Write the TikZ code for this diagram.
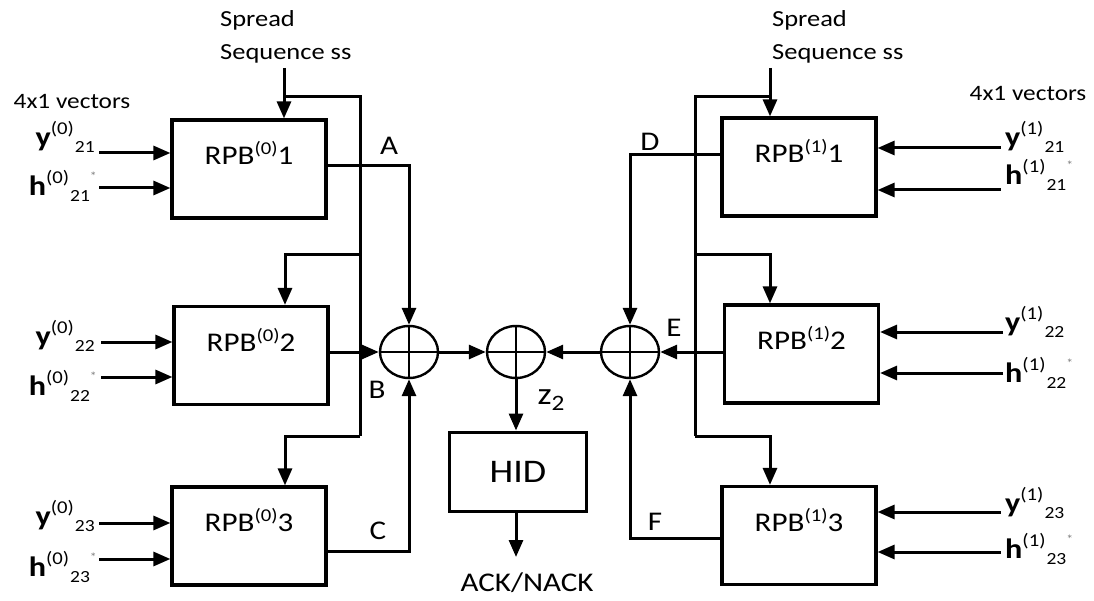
\documentclass[tikz,border=0pt]{standalone}
\usepackage{fontspec}
\setmainfont[FakeStretch=1.15]{Carlito}
\usetikzlibrary{arrows.meta,shapes.geometric,calc}
\newcommand{\sizeit}[2]{{\fontsize{#1}{#1}\selectfont #2}}
\newcommand{\rpblab}[2]{\sizeit{27}{RPB\raisebox{10pt}{\sizeit{18}{(#1)}}#2}}
\newcommand{\starmark}{\raisebox{15pt}{\sizeit{12}{\textcolor{gray}{*}}}}
\newcommand{\vlab}[3]{\sizeit{28}{\textbf{#1}}\raisebox{12pt}{\sizeit{18}{(#2)}}\hspace{1pt}\raisebox{-6pt}{\sizeit{17}{#3}}}
\begin{document}
\begin{tikzpicture}[x=1pt,y=-1pt,
  blk/.style={draw,line width=3.2pt,minimum width=154pt,minimum height=98pt,inner sep=0pt},
  adder/.style={draw,ellipse,line width=2.4pt,minimum width=58pt,minimum height=52pt,inner sep=0pt},
  ln/.style={line width=3pt},
  arr/.style={line width=3pt,-{Triangle[length=17pt,width=14pt]}},
  lbl/.style={inner sep=0pt,font=\fontsize{27}{27}\selectfont},
  vl/.style={inner sep=0pt},
  sstext/.style={inner sep=0pt,align=left,font=\fontsize{23}{33}\selectfont}]
\useasboundingbox[fill=white] (0,0) rectangle (1094,601);

% blocks
\node[blk,label={[anchor=center,yshift=-35pt]north:\rpblab{0}{1}}] (L1) at (249,169) {};
\node[blk,label={[anchor=center,yshift=-35pt]north:\rpblab{0}{2}}] (L2) at (251,355.5) {};
\node[blk,label={[anchor=center,yshift=-35pt]north:\rpblab{0}{3}}] (L3) at (249,536) {};
\node[blk,label={[anchor=center,yshift=-35pt]north:\rpblab{1}{1}}] (R1) at (799,167) {};
\node[blk,label={[anchor=center,yshift=-35pt]north:\rpblab{1}{2}}] (R2) at (801.5,354) {};
\node[blk,label={[anchor=center,yshift=-35pt]north:\rpblab{1}{3}}] (R3) at (799,535.5) {};
\node[draw,line width=3pt,minimum width=137pt,minimum height=79pt,inner sep=0pt,font=\fontsize{33}{33}\selectfont] (HID) at (518,471.5) {HID};

% adders
\foreach \n/\x in {A1/409,A2/516,A3/630}{
  \node[adder] (\n) at (\x,352) {};
  \draw[line width=2.4pt] (\n.north) -- (\n.south) (\n.west) -- (\n.east);
}

% texts
\node[sstext,anchor=west] (ssLt) at (220,37) {Spread\\Sequence ss};
\node[sstext,anchor=west] (ssRt) at (772,37) {Spread\\Sequence ss};
\node[inner sep=0pt,font=\fontsize{22}{22}\selectfont] (vecL) at (72,102) {4x1 vectors};
\node[inner sep=0pt,font=\fontsize{22}{22}\selectfont] (vecR) at (1028,94) {4x1 vectors};
\node[lbl] (lA) at (389,146) {A};
\node[lbl] (lB) at (377,390) {B};
\node[lbl] (lC) at (378,531) {C};
\node[lbl] (lD) at (650,142) {D};
\node[lbl] (lE) at (674,328) {E};
\node[lbl] (lF) at (655,522) {F};
\node[inner sep=0pt,font=\fontsize{31}{31}\selectfont] (z2) at (551,400) {z\raisebox{-6pt}{\sizeit{22}{2}}};
\node[lbl] (ack) at (527,583) {ACK/NACK};

% spread sequence inputs and buses
\coordinate (ssL) at (284,68);
\coordinate (bLt) at (360,97);
\coordinate (bL2) at (360,255);
\coordinate (bLb) at (360,436);
\draw[arr] (ssL) -- (ssL |- L1.north);
\draw[ln] (ssL |- bLt) -- (bLt) -- (bLb);
\draw[arr] (bL2) -| ($(L2.north)+(34,0)$);
\draw[arr] (bLb) -| ($(L3.north)+(36,0)$);

\coordinate (ssR) at (770,68);
\coordinate (bRt) at (695,97);
\coordinate (bR2) at (695,255);
\coordinate (bRb) at (695,436);
\draw[arr] (ssR) -- (ssR |- R1.north);
\draw[ln] (ssR |- bRt) -- (bRt) -- (bRb);
\draw[arr] (bR2) -| ($(R2.north)+(-31.5,0)$);
\draw[arr] (bRb) -| ($(R3.north)+(-29,0)$);

% block outputs to adders
\draw[arr] ($(L1.east)+(0,-3)$) -| (A1.north);
\draw[arr] (L2.east |- A1.west) -- (A1.west);
\draw[arr] ($(L3.east)+(0,15)$) -| (A1.south);
\draw[arr] ($(R1.west)+(0,-12)$) -| (A3.north);
\draw[arr] (R2.west |- A3.east) -- (A3.east);
\draw[arr] ($(R3.west)+(0,2.5)$) -| (A3.south);
\draw[arr] (A1.east) -- (A2.west);
\draw[arr] (A3.west) -- (A2.east);
\draw[arr] (A2.south) -- (A2.south |- HID.north);
\coordinate (ackend) at (516,557);
\draw[arr] (HID.south -| ackend) -- (ackend);

% left inputs
\foreach \b/\ya/\yb in {L1/-16/19, L2/-13.5/21.5, L3/-13/23}{
  \coordinate (s\b a) at ($(\b.west)+(-71,\ya)$);
  \coordinate (s\b b) at ($(\b.west)+(-71,\yb)$);
  \draw[arr] (s\b a) -- (s\b a -| \b.west);
  \draw[arr] (s\b b) -- (s\b b -| \b.west);
}
\node[vl,anchor=base east] (yL1) at (95,147) {\vlab{y}{0}{21}};
\node[vl,anchor=base east] (hL1) at (97,196) {\vlab{h}{0}{21}\starmark};
\node[vl,anchor=base east] (yL2) at (95,345) {\vlab{y}{0}{22}};
\node[vl,anchor=base east] (hL2) at (97,395) {\vlab{h}{0}{22}\starmark};
\node[vl,anchor=base east] (yL3) at (95,525) {\vlab{y}{0}{23}};
\node[vl,anchor=base east] (hL3) at (97,576) {\vlab{h}{0}{23}\starmark};

% right inputs
\foreach \b/\ya/\yb in {R1/-19/23, R2/-22/19, R3/-23.5/16.5}{
  \coordinate (s\b a) at ($(\b.east)+(123,\ya)$);
  \coordinate (s\b b) at ($(\b.east)+(123,\yb)$);
  \draw[arr] (s\b a) -- (s\b a -| \b.east);
  \draw[arr] (s\b b) -- (s\b b -| \b.east);
}
\node[vl,anchor=base west] (yR1) at (1005,147) {\vlab{y}{1}{21}};
\node[vl,anchor=base west] (hR1) at (1005,185) {\vlab{h}{1}{21}\starmark};
\node[vl,anchor=base west] (yR2) at (1005,331) {\vlab{y}{1}{22}};
\node[vl,anchor=base west] (hR2) at (1005,382) {\vlab{h}{1}{22}\starmark};
\node[vl,anchor=base west] (yR3) at (1005,512) {\vlab{y}{1}{23}};
\node[vl,anchor=base west] (hR3) at (1005,558) {\vlab{h}{1}{23}\starmark};
\end{tikzpicture}
\end{document}
